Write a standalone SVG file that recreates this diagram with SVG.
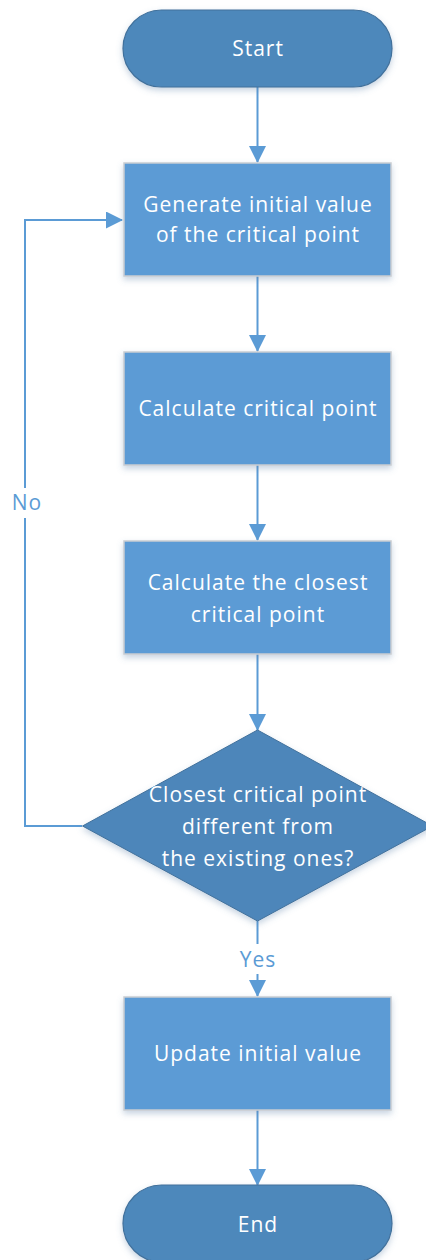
<svg xmlns="http://www.w3.org/2000/svg" width="426" height="1260" viewBox="0 0 426 1260">
  <style>
    .term { fill: #4e88bb; stroke: #41719c; stroke-width: 1.2; }
    .proc { fill: #5b9bd5; stroke: #c9cdd2; stroke-width: 1.5; }
    .dec { fill: #4e86ba; stroke: #41719c; stroke-width: 1; }
    .lbl { font-family: "Open Sans", "Liberation Sans", sans-serif; font-size: 21px; letter-spacing: 1px; fill: #ffffff; text-anchor: middle; }
    .edge { fill: none; stroke: #5b9bd5; stroke-width: 2; }
    .elbl { font-family: "Open Sans", "Liberation Sans", sans-serif; font-size: 21px; letter-spacing: 1px; fill: #5b9bd5; text-anchor: middle; }
  </style>
  <defs>
    <marker id="arrow" viewBox="0 0 17 17" refX="16" refY="8.5" markerWidth="17" markerHeight="17" markerUnits="userSpaceOnUse" orient="auto">
      <path d="M0,0 L17,8.5 L0,17 Z" fill="#5b9bd5"/>
    </marker>
    <filter id="shadow" x="-10%" y="-10%" width="120%" height="130%">
      <feDropShadow dx="0" dy="3" stdDeviation="3" flood-color="#5b7fa8" flood-opacity="0.35"/>
    </filter>
  </defs>

  <g id="connectors">
    <path class="edge" d="M257.5,87 V162" marker-end="url(#arrow)"/>
    <path class="edge" d="M257.5,276 V351" marker-end="url(#arrow)"/>
    <path class="edge" d="M257.5,465 V540" marker-end="url(#arrow)"/>
    <path class="edge" d="M257.5,654 V730" marker-end="url(#arrow)"/>
    <path class="edge" d="M257.5,921 V996" marker-end="url(#arrow)"/>
    <path class="edge" d="M257.5,1110 V1185" marker-end="url(#arrow)"/>
    <path class="edge" d="M82,826 H25 V220 H122" marker-end="url(#arrow)"/>
    <rect x="8" y="488" width="38" height="30" fill="#ffffff"/>
    <text class="elbl" x="27" y="510">No</text>
    <rect x="234" y="944" width="48" height="30" fill="#ffffff"/>
    <text class="elbl" x="258" y="967">Yes</text>
  </g>

  <g id="start">
    <rect class="term" x="123" y="10" width="269" height="77" rx="38.5" filter="url(#shadow)"/>
    <text class="lbl" x="258" y="56">Start</text>
  </g>

  <g id="generate">
    <rect class="proc" x="124" y="163" width="267" height="113" filter="url(#shadow)"/>
    <text class="lbl" x="258" y="212">Generate initial value</text>
    <text class="lbl" x="258" y="242">of the critical point</text>
  </g>

  <g id="calculate">
    <rect class="proc" x="124" y="352" width="267" height="113" filter="url(#shadow)"/>
    <text class="lbl" x="258" y="416">Calculate critical point</text>
  </g>

  <g id="closest">
    <rect class="proc" x="124" y="541" width="267" height="113" filter="url(#shadow)"/>
    <text class="lbl" x="258" y="590">Calculate the closest</text>
    <text class="lbl" x="258" y="622">critical point</text>
  </g>

  <g id="decision">
    <polygon class="dec" points="257.5,730 432.5,826 257.5,921 82.5,826" filter="url(#shadow)"/>
    <text class="lbl" x="258" y="802">Closest critical point</text>
    <text class="lbl" x="258" y="834">different from</text>
    <text class="lbl" x="258" y="866">the existing ones?</text>
  </g>

  <g id="update">
    <rect class="proc" x="124" y="997" width="267" height="113" filter="url(#shadow)"/>
    <text class="lbl" x="258" y="1061">Update initial value</text>
  </g>

  <g id="end">
    <rect class="term" x="123" y="1185" width="269" height="77" rx="38.5" filter="url(#shadow)"/>
    <text class="lbl" x="258" y="1232">End</text>
  </g>
</svg>
